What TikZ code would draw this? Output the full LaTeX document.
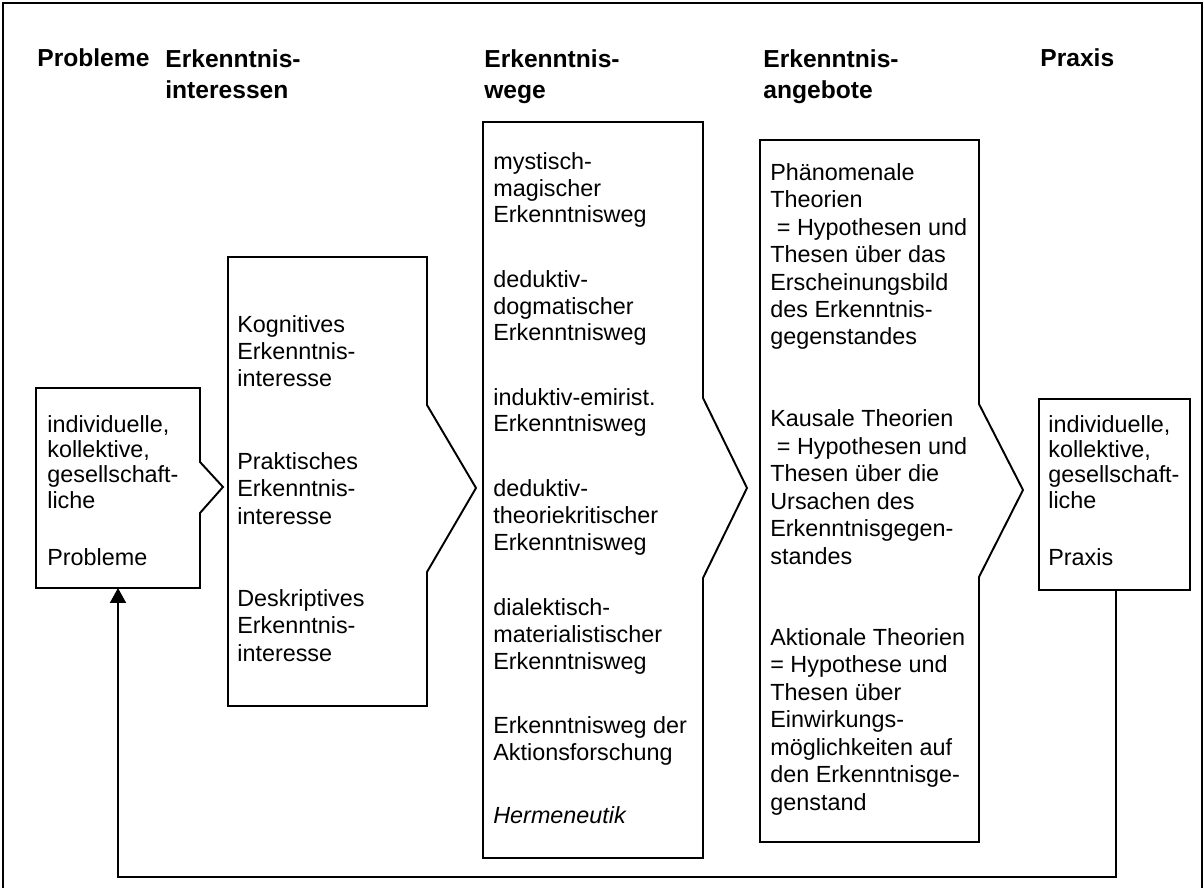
\documentclass[tikz,border=0pt]{standalone}
\usepackage{fontspec}
\setmainfont{Liberation Sans}
\usetikzlibrary{arrows.meta}

\tikzset{
  boxline/.style={line width=1.1pt, line join=miter},
  boxtext/.style={anchor=base west, inner sep=0pt, align=left, font=\fontsize{13.3}{#1}\selectfont},
  headtext/.style={anchor=base west, inner sep=0pt, align=left, font=\fontsize{14}{18.2}\selectfont\bfseries},
}

\begin{document}
\begin{tikzpicture}[x=0.02cm,y=-0.02cm]
  \useasboundingbox (0,0) rectangle (1204,888);
  \draw[line width=1.4pt] (3,3) rectangle (1202,890);
  % column heads (anchored at the last line)
  \node[headtext] (hprob) at (37,67) {Probleme};
  \node[headtext] (hint) at (165,99) {Erkenntnis-\\interessen};
  \node[headtext] (hweg) at (484,99) {Erkenntnis-\\wege};
  \node[headtext] (hang) at (763,99) {Erkenntnis-\\angebote};
  \node[headtext] (hprax) at (1040,67) {Praxis};
  % boxes with notched right side
  \draw[boxline] (36,388) -- (200,388) -- (200,462) -- (223,487) -- (200,513) -- (200,588) -- (36,588) -- cycle;
  \draw[boxline] (228,257) -- (427,257) -- (427,405) -- (476,488) -- (427,572) -- (427,706) -- (228,706) -- cycle;
  \draw[boxline] (483,122) -- (703,122) -- (703,398) -- (747,488) -- (703,578) -- (703,858) -- (483,858) -- cycle;
  \draw[boxline] (760,140) -- (979,140) -- (979,404) -- (1023,490) -- (979,577) -- (979,842) -- (760,842) -- cycle;
  \draw[boxline] (1039,399) rectangle (1190,590);
  % Probleme
  \node[boxtext=14.4] (probwho) at (47,508) {individuelle,\\kollektive,\\gesellschaft-\\liche};
  \node[boxtext=14.4] (probname) at (47,565) {Probleme};
  % Erkenntnisinteressen
  \node[boxtext=15.4] (intkog) at (237,387) {Kognitives\\Erkenntnis-\\interesse};
  \node[boxtext=15.4] (intprak) at (237,524) {Praktisches\\Erkenntnis-\\interesse};
  \node[boxtext=15.4] (intdesk) at (237,661) {Deskriptives\\Erkenntnis-\\interesse};
  % Erkenntniswege
  \node[boxtext=15.1] (wegmyst) at (493,223) {mystisch-\\magischer\\Erkenntnisweg};
  \node[boxtext=15.1] (wegdog) at (493,341) {deduktiv-\\dogmatischer\\Erkenntnisweg};
  \node[boxtext=15.1] (wegind) at (493,432) {induktiv-emirist.\\Erkenntnisweg};
  \node[boxtext=15.1] (wegkrit) at (493,550) {deduktiv-\\theoriekritischer\\Erkenntnisweg};
  \node[boxtext=15.1] (wegdial) at (493,669) {dialektisch-\\materialistischer\\Erkenntnisweg};
  \node[boxtext=15.1] (wegakt) at (493,760) {Erkenntnisweg der\\Aktionsforschung};
  \node[boxtext=15.1] (wegherm) at (493,823) {\itshape Hermeneutik};
  % Erkenntnisangebote
  \node[boxtext=15.6] (angphaen) at (770,345) {Phänomenale\\Theorien\\\hspace*{0.28em}= Hypothesen und\\Thesen über das\\Erscheinungsbild\\des Erkenntnis-\\gegenstandes};
  \node[boxtext=15.6] (angkaus) at (770,564) {Kausale Theorien\\\hspace*{0.28em}= Hypothesen und\\Thesen über die\\Ursachen des\\Erkenntnisgegen-\\standes};
  \node[boxtext=15.6] (angakt) at (770,810) {Aktionale Theorien\\= Hypothese und\\Thesen über\\Einwirkungs-\\möglichkeiten auf\\den Erkenntnisge-\\genstand};
  % Praxis
  \node[boxtext=14.4] (praxwho) at (1048,508) {individuelle,\\kollektive,\\gesellschaft-\\liche};
  \node[boxtext=14.4] (praxname) at (1048,565) {Praxis};
  % feedback from Praxis to Probleme
  \coordinate (praxfoot) at (1116,590);
  \coordinate (probfoot) at (118,588);
  \draw[boxline, -{Triangle[width=0.32cm,length=0.3cm]}] (praxfoot) -- ++(0,287) -| (probfoot);
\end{tikzpicture}
\end{document}
